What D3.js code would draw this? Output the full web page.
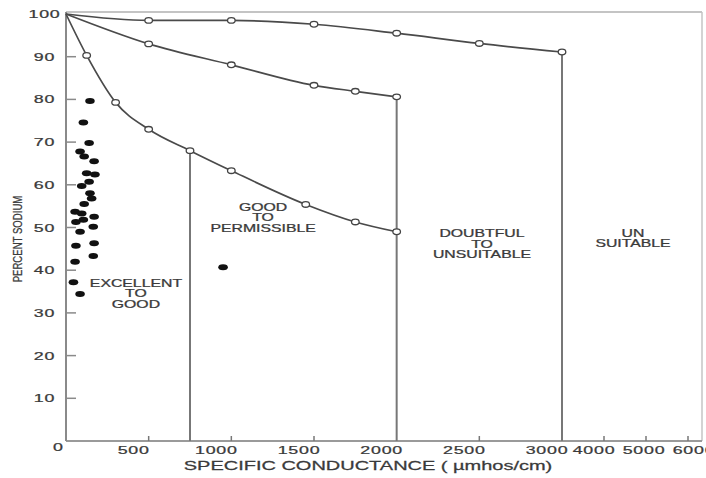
<!DOCTYPE html>
<html>
<head>
<meta charset="utf-8">
<script src="https://cdn.jsdelivr.net/npm/d3@7"></script>
<style>
  body { margin: 0; background: #fff; }
  svg { display: block; }
  text { font-family: "Liberation Sans", Arial, sans-serif; fill: #3a3a3a; stroke: #3a3a3a; stroke-width: 0.25px; }
</style>
</head>
<body>
<svg id="chart" width="706" height="478"></svg>
<script>
// boundary curves of the diagram (specific conductance, percent sodium)
const curveTop = [[0, 100], [500, 98.5], [1000, 98.5], [1500, 97.6], [2000, 95.5], [2500, 93.1], [3000, 91.1]];
const curveMid = [[0, 100], [500, 93], [1000, 88.1], [1500, 83.3], [1750, 81.9], [2000, 80.6]];
const curveLow = [[0, 100], [125, 90.3], [300, 79.3], [500, 73], [750, 68], [1000, 63.3], [1450, 55.4], [1750, 51.3], [2000, 49]];

// vertical class limits: x and the percent sodium where they start
const limits = [[750, 68], [2000, 80.6], [3000, 91.1]];

// water samples
const samples = [
  [145, 79.6], [105, 74.6], [140, 69.8], [85, 67.8], [110, 66.6], [170, 65.5],
  [125, 62.7], [175, 62.4], [140, 60.7], [95, 59.7], [145, 58], [155, 56.8],
  [110, 55.5], [55, 53.7], [95, 53.3], [170, 52.5], [105, 51.8], [60, 51.3],
  [165, 50.2], [85, 49], [60, 45.7], [170, 46.3], [55, 42], [165, 43.3],
  [45, 37.2], [85, 34.4], [950, 40.7]
];

const xTicks = [500, 1000, 1500, 2000, 2500, 3000, 4000, 5000, 6000];
const xMarks = [500, 1000, 1500, 2500, 4000, 5000, 6000];
const yTicks = [10, 20, 30, 40, 50, 60, 70, 80, 90, 100];

const zones = [
  {x: 423, y: 37, lines: ["EXCELLENT", "TO", "GOOD"]},
  {x: 1192, y: 54.8, lines: ["GOOD", "TO", "PERMISSIBLE"]},
  {x: 2516, y: 48.5, lines: ["DOUBTFUL", "TO", "UNSUITABLE"]},
  {x: 4690, y: 48.7, lines: ["UN", "SUITABLE"]}
];

const svg = d3.select("#chart");
const mLeft = 66, mRight = 702, mTop = 14, mBottom = 441;

// conductance axis is squeezed beyond 3000
const x = d3.scaleLinear().domain([0, 3000, 6000]).range([mLeft, 562, 688]);
const y = d3.scaleLinear().domain([0, 100]).range([mBottom, mTop]);

// text with wide letters, like the scanned original
function label(g, px, py, str, size, sx, spacing) {
  return g.append("text")
    .attr("transform", `translate(${px},${py}) scale(${sx},1)`)
    .attr("text-anchor", "middle")
    .style("font-size", size + "px")
    .style("letter-spacing", (spacing || 0) + "px")
    .text(str);
}

// frame
svg.append("line").attr("x1", mLeft).attr("x2", mRight).attr("y1", mTop - 2).attr("y2", mTop - 2)
  .attr("stroke", "#c4c4c4").attr("stroke-width", 2);
svg.append("line").attr("x1", mRight).attr("x2", mRight).attr("y1", mTop - 2).attr("y2", mBottom)
  .attr("stroke", "#c4c4c4").attr("stroke-width", 1.5);
svg.append("line").attr("x1", mLeft).attr("x2", mRight).attr("y1", mBottom).attr("y2", mBottom)
  .attr("stroke", "#9a9a9a").attr("stroke-width", 2);
svg.append("line").attr("x1", mLeft).attr("x2", mLeft).attr("y1", mTop - 2).attr("y2", mBottom)
  .attr("stroke", "#8a8a8a").attr("stroke-width", 2);

// ticks
const axisG = svg.append("g");
axisG.selectAll("line.yt").data(yTicks.filter(d => d < 100)).enter().append("line")
  .attr("class", "yt")
  .attr("x1", mLeft).attr("x2", mLeft + 10)
  .attr("y1", d => y(d)).attr("y2", d => y(d))
  .attr("stroke", "#8a8a8a").attr("stroke-width", 1.5);
axisG.selectAll("line.xt").data(xMarks).enter().append("line")
  .attr("class", "xt")
  .attr("x1", d => x(d)).attr("x2", d => x(d))
  .attr("y1", mBottom).attr("y2", mBottom - 5)
  .attr("stroke", "#777").attr("stroke-width", 1.5);

yTicks.forEach(d => label(axisG, 44.5, y(d) + 4, d, 11.5, 1.55, 0.5));
// the scanned labels sit a little left of their ticks, and spread out past 3000
const xLabelShift = d => d <= 3000 ? -15 : -2 + (d - 5000) / 1000 * 8;
xTicks.forEach(d => label(axisG, x(d) + xLabelShift(d), mBottom + 13, d, 11.5, 1.55, 0.5));
label(axisG, 58, mBottom + 10, "0", 11.5, 1.55);

// class limit lines
svg.selectAll("line.limit").data(limits).enter().append("line")
  .attr("class", "limit")
  .attr("x1", d => x(d[0])).attr("x2", d => x(d[0]))
  .attr("y1", d => y(d[1])).attr("y2", y(0))
  .attr("stroke", "#777").attr("stroke-width", 2);

// curves
const line = d3.line().x(d => x(d[0])).y(d => y(d[1])).curve(d3.curveMonotoneX);
[curveTop, curveMid, curveLow].forEach(c => {
  svg.append("path").attr("d", line(c))
    .attr("fill", "none").attr("stroke", "#4a4a4a").attr("stroke-width", 1.7);
  svg.selectAll(null).data(c.slice(1)).enter().append("ellipse")
    .attr("cx", d => x(d[0])).attr("cy", d => y(d[1]))
    .attr("rx", 3.8).attr("ry", 2.8)
    .attr("fill", "#fff").attr("stroke", "#444").attr("stroke-width", 1.3);
});

// samples
svg.selectAll("ellipse.pt").data(samples).enter().append("ellipse")
  .attr("class", "pt")
  .attr("cx", d => x(d[0])).attr("cy", d => y(d[1]))
  .attr("rx", 4.8).attr("ry", 3)
  .attr("fill", "#111");

// zone names
zones.forEach(z => {
  z.lines.forEach((t, i) => label(svg, x(z.x), y(z.y) + 3.5 + i * 10.5, t, 10, 1.58));
});

// axis titles
svg.append("text")
  .attr("transform", `translate(22,239) rotate(-90) scale(0.8,1)`)
  .attr("text-anchor", "middle")
  .style("font-size", "12px")
  .text("PERCENT SODIUM");
label(svg, 368, mBottom + 29, "SPECIFIC CONDUCTANCE ( \u00b5mhos/cm)", 12.5, 1.6);
</script>
</body>
</html>
